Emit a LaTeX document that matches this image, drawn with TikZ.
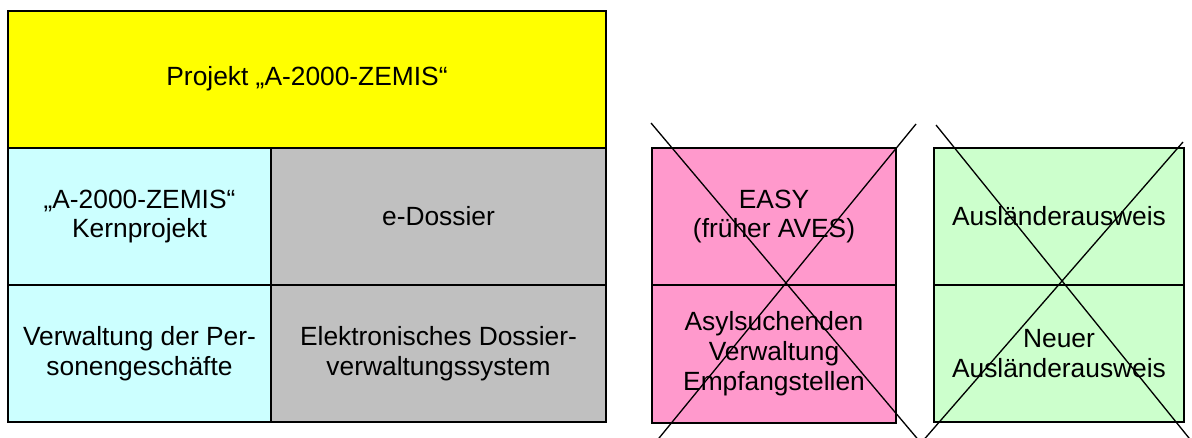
\documentclass[tikz,border=0pt]{standalone}
\usepackage{fontspec}
\setmainfont{Liberation Sans}
\usetikzlibrary{positioning}
\definecolor{projyellow}{HTML}{FFFF00}
\definecolor{kerncyan}{HTML}{CCFFFF}
\definecolor{dossgray}{HTML}{C0C0C0}
\definecolor{easypink}{HTML}{FF99CC}
\definecolor{ausgreen}{HTML}{CCFFCC}
\tikzset{cell/.style={draw=black, line width=1.15pt}, celltxt/.style={align=center, inner sep=0pt, font=\fontsize{15}{17}\selectfont}, cross/.style={draw=black, line width=.75pt}}

\begin{document}
\begin{tikzpicture}[x=0.02cm, y=-0.02cm]
\useasboundingbox (0,0) rectangle (1192,438); \clip (0,0) rectangle (1192,438);
% Projekt A-2000-ZEMIS
\draw[cell, fill=projyellow] (8,11) rectangle (606,148); \node[celltxt] (proj) at (307,79) {Projekt „A-2000-ZEMIS“};
\draw[cell, fill=kerncyan] (8,148) rectangle (271,285); \node[celltxt] (kern) at (139.5,216.5) {„A-2000-ZEMIS“\\Kernprojekt};
\draw[cell, fill=dossgray] (271,148) rectangle (606,285); \node[celltxt] (edoss) at (438.5,216.5) {e-Dossier};
\draw[cell, fill=kerncyan] (8,285) rectangle (271,422); \node[celltxt] (verw) at (139.5,353.5) {Verwaltung der Per-\\sonengeschäfte};
\draw[cell, fill=dossgray] (271,285) rectangle (606,422); \node[celltxt] (edvs) at (438.5,353.5) {Elektronisches Dossier-\\verwaltungssystem};
\draw[cell, line width=1.5pt] (8,11) rectangle (606,422);
% EASY (gestrichen)
\draw[cell, fill=easypink] (652,148) rectangle (896,285); \node[celltxt] (easy) at (774,216.5) {EASY\\(früher AVES)};
\draw[cell, fill=easypink] (652,285) rectangle (896,423); \node[celltxt] (asyl) at (774,354) {Asylsuchenden\\Verwaltung\\Empfangstellen};
\draw[cross] (651,123) -- (921,443); \draw[cross] (916,124) -- (655,443);
% Auslaenderausweis (gestrichen)
\draw[cell, fill=ausgreen] (934,148) rectangle (1184,285); \node[celltxt] (ausw) at (1059,216.5) {Ausländerausweis};
\draw[cell, fill=ausgreen] (934,285) rectangle (1184,422); \node[celltxt] (neuausw) at (1059,353.5) {Neuer\\Ausländerausweis};
\draw[cross] (936,125) -- (1193,443); \draw[cross] (1183,142) -- (921,443);
\end{tikzpicture}
\end{document}
